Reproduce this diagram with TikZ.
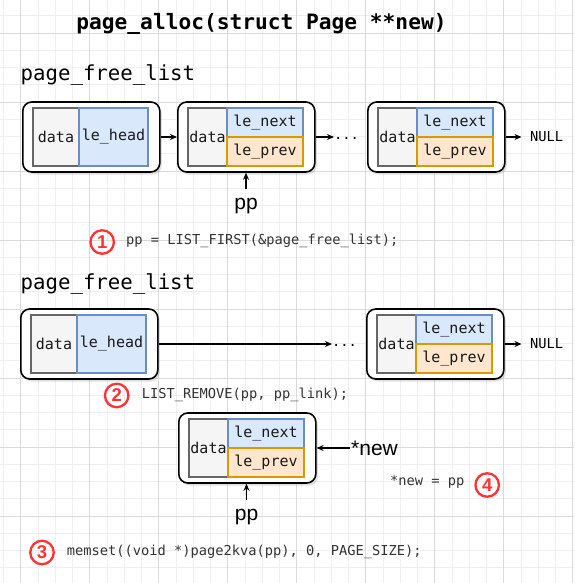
\documentclass[tikz,border=0pt]{standalone}
\usepackage{fontspec}
\setmainfont{Liberation Sans}
\newfontfamily\codefont{DejaVu Sans Mono}
\usetikzlibrary{arrows.meta,shadows}
\definecolor{gridmajor}{HTML}{DADADA}
\definecolor{gridminor}{HTML}{EFEFEF}
\definecolor{datafill}{HTML}{F5F5F5}
\definecolor{datadraw}{HTML}{666666}
\definecolor{bluefill}{HTML}{DAE8FC}
\definecolor{bluedraw}{HTML}{6C8EBF}
\definecolor{orangefill}{HTML}{FFE6CC}
\definecolor{orangedraw}{HTML}{D79B00}
\definecolor{redmark}{HTML}{FF3333}
\definecolor{codegray}{HTML}{333333}
\newcommand{\setfs}[1]{\fontsize{#1}{#1}\selectfont}
\tikzset{
  outerbox/.style={draw=black, line width=1.6pt, fill=white, rounded corners=9pt,
    minimum width=137, minimum height=70, inner sep=0,
    drop shadow={shadow xshift=2pt, shadow yshift=-2.5pt, opacity=0.25}},
  cell/.style={line width=1.3pt, inner sep=0, outer sep=0, text=black!90, font={\codefont\setfs{15}}},
  datacell/.style={cell, draw=datadraw, fill=datafill, minimum height=58},
  headcell/.style={cell, draw=bluedraw, fill=bluefill, minimum height=58},
  nextcell/.style={cell, draw=bluedraw, fill=bluefill, minimum height=29, minimum width=76},
  prevcell/.style={cell, draw=orangedraw, fill=orangefill, minimum height=29, minimum width=76},
  arr/.style={-{Stealth[length=7pt,width=6pt]}, line width=1.3pt, black},
  code/.style={font={\codefont\setfs{13.7}}, text=codegray, inner sep=0},
  stepmark/.style={circle, draw=redmark, line width=2.3pt, minimum size=23.5, inner sep=0,
    text=redmark, font={\bfseries\setfs{18.5}}},
  biglabel/.style={font={\setfs{21}}, inner sep=0},
  listlabel/.style={font={\codefont\setfs{20.7}}, inner sep=0, anchor=base west},
  minorline/.style={draw=gridminor, line width=0.8pt},
  majorline/.style={draw=gridmajor, line width=0.8pt},
}
\newcommand{\headnode}[3]{%
  \node[outerbox, anchor=west] (#1) at (#2,#3) {};
  \node[datacell, minimum width=46, anchor=west] (#1-data) at (#2+11,#3) {data};
  \node[headcell, minimum width=69, anchor=west] (#1-head) at (#2+57,#3) {le\_head};
}
\newcommand{\pagenode}[3]{%
  \node[outerbox, anchor=west] (#1) at (#2,#3) {};
  \node[datacell, minimum width=39, anchor=west] (#1-data) at (#2+11,#3) {data};
  \node[nextcell, anchor=south west] (#1-next) at (#2+50,#3) {le\_next};
  \node[prevcell, anchor=north west] (#1-prev) at (#2+50,#3) {le\_prev};
}
\begin{document}
\begin{tikzpicture}[x=1pt,y=-1pt]
\useasboundingbox (0,0) rectangle (574,583);
\clip (0,0) rectangle (574,583);
\fill[white] (0,0) rectangle (574,583);
% grid
\foreach \i in {-1,...,32} \draw[minorline] ({20.7+17.25*\i},0) -- ({20.7+17.25*\i},583);
\foreach \i in {-1,...,31} \draw[minorline] (0,{33+17.25*\i}) -- (574,{33+17.25*\i});
\foreach \i in {0,...,8} \draw[majorline] ({20.7+69*\i},0) -- ({20.7+69*\i},583);
\foreach \i in {0,...,7} \draw[majorline] (0,{33+69*\i}) -- (574,{33+69*\i});

% title
\node[font={\codefont\bfseries\setfs{21.2}}, anchor=base, inner sep=0] (title) at (261.5,30) {page\_alloc(struct Page **new)};

% ---------- section 1
\node[listlabel] (list1) at (20.5,81) {page\_free\_list};
\headnode{A}{22}{137}
\pagenode{B}{177}{137}
\pagenode{C}{367}{137}
\node[code, text=black, anchor=west] (dots1) at (334,138) {...};
\node[code, text=black, anchor=west] (null1) at (530,137) {NULL};
\draw[arr] (A.east) -- (B.west);
\draw[arr] (B.east) -- (B.east -| dots1.west);
\draw[arr] (C.east) -- ([xshift=-8.5pt]null1.west);
\node[biglabel, anchor=base] (pp1) at (246,209.5) {pp};
\draw[arr, shorten <=9pt] (pp1.north) -- (pp1.north |- B.south);
\node[stepmark] (s1) at (102.2,242) {1};
\node[code, anchor=west] (c1) at (126,241) {pp = LIST\_FIRST(\&page\_free\_list);};

% ---------- section 2
\node[listlabel] (list2) at (20.5,289) {page\_free\_list};
\headnode{D}{20}{344}
\pagenode{E}{366}{344}
\node[code, text=black, anchor=west] (dots2) at (332,345) {...};
\node[code, text=black, anchor=west] (null2) at (530,344) {NULL};
\draw[arr] (D.east) -- (D.east -| dots2.west);
\draw[arr] (E.east) -- ([xshift=-8.5pt]null2.west);
\node[stepmark] (s2) at (116.7,395.5) {2};
\node[code, anchor=west] (c2) at (141.7,395) {LIST\_REMOVE(pp, pp\_link);};

% ---------- section 3
\pagenode{F}{178}{448}
\node[biglabel, anchor=base] (pp2) at (246.5,520) {pp};
\draw[arr, shorten <=9pt] (pp2.north) -- (pp2.north |- F.south);
\node[biglabel, anchor=west, inner sep=1.5pt] (new1) at (349.5,448) {*new};
\draw[arr] (new1.west) -- (new1.west -| F.east);
\node[code, anchor=west] (c4) at (390,482) {*new = pp};
\node[stepmark] (s4) at (487.2,485) {4};
\node[stepmark] (s3) at (42,552.5) {3};
\node[code, anchor=west] (c3) at (66.7,552) {memset((void *)page2kva(pp), 0, PAGE\_SIZE);};
\end{tikzpicture}
\end{document}
